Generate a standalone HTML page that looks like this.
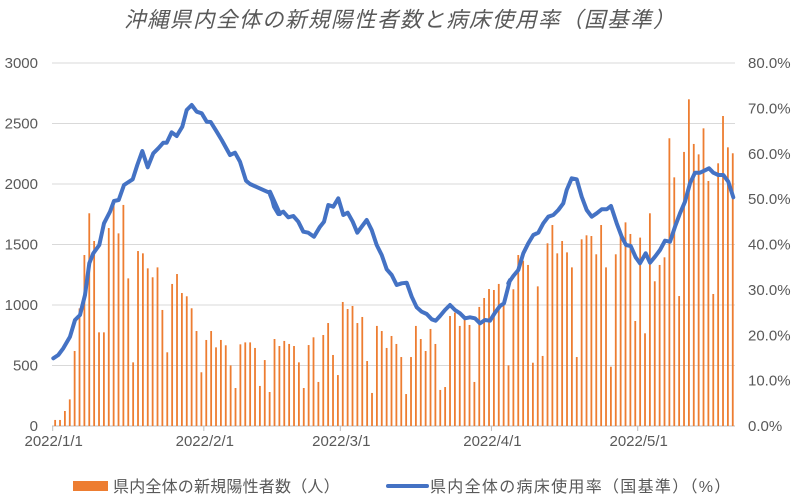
<!DOCTYPE html>
<html><head><meta charset="utf-8"><style>
body{margin:0;background:#fff;}
svg{display:block;font-family:"Liberation Sans","Noto Sans CJK JP",sans-serif;}
</style></head><body>
<svg id="c" width="804" height="496" xmlns="http://www.w3.org/2000/svg">
<rect width="804" height="496" fill="#fff"/>
<text x="400" y="27" text-anchor="middle" font-size="21.5" font-style="italic" fill="#595959" font-family="'Liberation Sans','Noto Sans CJK JP',sans-serif" letter-spacing="1.5">沖縄県内全体の新規陽性者数と病床使用率（国基準）</text>
<g id="grid" stroke="#d9d9d9" stroke-width="1"></g>
<g id="bars" fill="#ED7D31"></g>
<polyline id="ln" fill="none" stroke="#4472C4" stroke-width="4" stroke-linejoin="round" stroke-linecap="round"/>
<g id="lab" font-size="15" fill="#595959"></g>
<rect x="73" y="481" width="35" height="10" fill="#ED7D31"/>
<text x="113" y="492" font-size="16" fill="#595959" letter-spacing="0.2">県内全体の新規陽性者数（人）</text>
<line x1="388" y1="486" x2="427" y2="486" stroke="#4472C4" stroke-width="4" stroke-linecap="round"/>
<text x="430" y="492" font-size="16" fill="#595959" letter-spacing="1.3">県内全体の病床使用率（国基準）（%）</text>
</svg>
<script>
var ns="http://www.w3.org/2000/svg";
function el(t,a,p,txt){var e=document.createElementNS(ns,t);for(var k in a)e.setAttribute(k,a[k]);if(txt)e.textContent=txt;document.getElementById(p).appendChild(e);return e;}
var y0=426,step=60.5,x0=52.7,dx=4.875,xr=735;
for(var i=0;i<=6;i++){var y=y0-i*step;
 if(i>0)el('line',{x1:52,x2:xr,y1:y,y2:y},'grid');
 el('text',{x:38,y:y+5,'text-anchor':'end'},'lab',String(i*500));}
for(var j=0;j<=8;j++){var yy=y0-j*step*6/8;
 el('text',{x:748,y:yy+5},'lab',(j*10).toFixed(1)+'%');}
el('line',{x1:52,x2:xr,y1:y0,y2:y0,stroke:'#bfbfbf'},'grid');
var ticks=[[0,'2022/1/1'],[31,'2022/2/1'],[59,'2022/3/1'],[90,'2022/4/1'],[120,'2022/5/1']];
ticks.forEach(function(t){var x=x0+t[0]*dx;el('line',{x1:x,x2:x,y1:y0,y2:y0+5,stroke:'#bfbfbf'},'grid');el('text',{x:x+1,y:446,'text-anchor':'middle'},'lab',t[1]);});
var v=[50,50,124,220,620,972,1413,1758,1529,774,774,1636,1827,1592,1827,1220,526,1446,1427,1303,1229,1311,959,609,1174,1256,1099,1072,973,785,444,711,785,650,711,667,501,314,675,691,691,645,331,545,281,719,661,
703,678,661,526,314,669,733,364,752,851,587,421,1025,967,992,851,901,537,273,827,785,645,744,678,570,264,570,827,719,620,802,678,298,322,909,937,827,876,835,364,984,1058,1132,1124,1174,1000,501,
1130,1413,1366,1331,523,1154,579,1510,1661,1427,1529,1435,1311,570,1543,1576,1570,1419,1661,1311,490,1419,1576,1683,1587,868,1557,766,1758,1196,1331,1394,2378,2055,1074,2265,2700,2331,2245,2460,2025,1091,2171,2562,2303,2254];
v.forEach(function(val,i){var x=x0+(i+0.5)*dx;var h=val/500*step;el('rect',{x:x-0.9,y:y0-h,width:1.8,height:h},'bars');});
var z1=[[40,805],[55,795],[70,775],[90,740],[105,690],[120,675],[135,615],[148,520],[160,490],[178,465],[192,400],[210,365],[222,333],[236,330],[252,285],[278,268],[292,225],[307,183],[323,232],[340,190],[355,175],[370,158],[380,158],[395,127],[410,138],[427,110],[440,60],[455,45],[470,65],[485,70],[500,95],[512,96],[530,125],[545,150],[570,195],[585,188],[600,215],[618,272],[630,282],[688,308],[705,352],[720,372]];
var z2=[[0,305],[12,350],[25,372],[40,365],[55,382],[70,378],[85,395],[100,425],[115,428],[132,440],[150,410],[162,395],[175,345],[190,350],[205,325],[220,375],[233,368],[248,395],[262,428],[275,410],[290,390],[305,420],[320,465],[335,495],[350,538],[365,555],[380,585],[395,580],[410,578],[425,620],[440,652],[455,665],[470,672],[485,688],[497,692],[510,678],[525,660],[540,645],[555,660],[570,670],[585,685],[600,682],[615,685],[630,700],[645,690],[660,692],[675,668],[690,648],[702,640],[720,570]];
var z3=[[25,580],[40,558],[55,540],[70,490],[85,460],[100,435],[115,428],[130,400],[145,380],[160,375],[175,360],[190,340],[200,300],[215,265],[230,268],[245,320],[260,360],[275,380],[290,370],[305,358],[320,358],[333,348],[350,400],[365,440],[378,465],[392,468],[407,502],[420,520],[437,490],[450,518],[465,500],[480,480],[495,452],[510,455],[525,410],[540,370],[555,335],[570,280],[585,248],[600,248],[613,242],[627,235],[640,248],[655,255],[670,255],[685,275],[700,322]];
var pts=[];
z1.forEach(function(p){pts.push((40+p[0]/3).toFixed(1)+','+(90+p[1]/3).toFixed(1));});
z2.forEach(function(p){pts.push((270+p[0]/3).toFixed(1)+','+(90+p[1]/3).toFixed(1));});
z3.forEach(function(p){pts.push((500+p[0]/3).toFixed(1)+','+(90+p[1]/3).toFixed(1));});
document.getElementById('ln').setAttribute('points',pts.join(' '));
</script>
</body></html>
